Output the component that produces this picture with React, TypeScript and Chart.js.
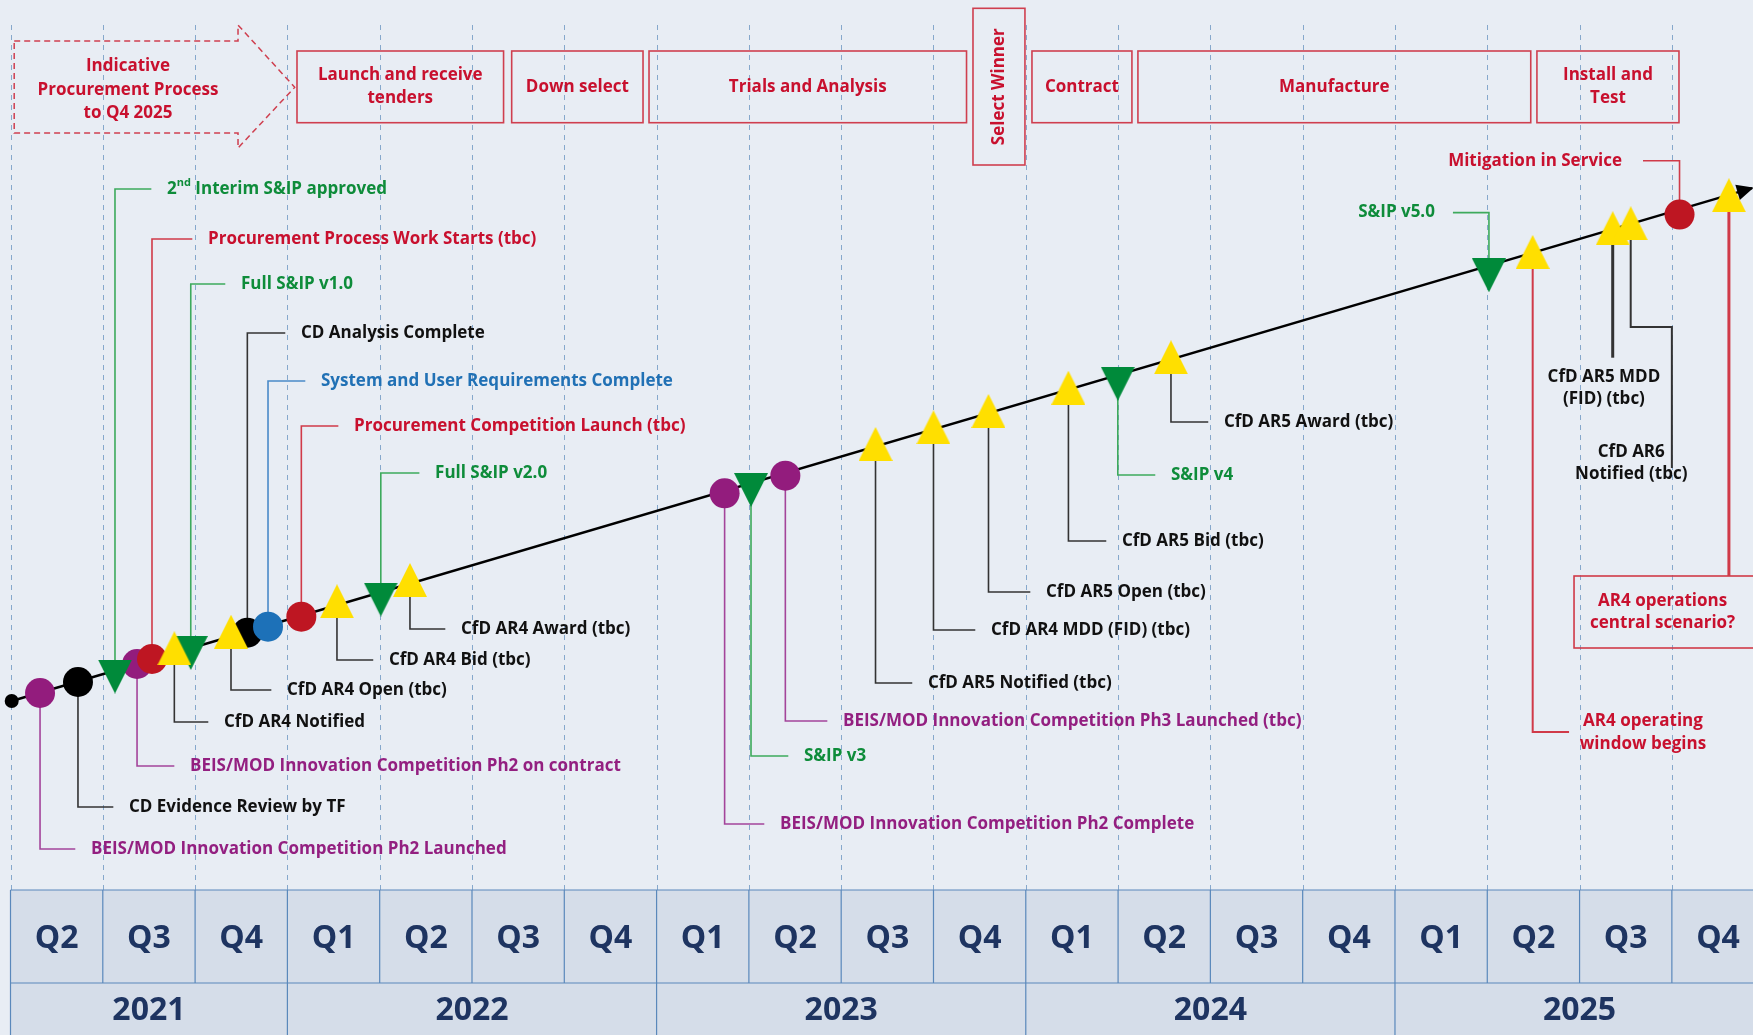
import React, { useEffect, useRef } from 'react';
import { Chart, registerables } from 'chart.js';

Chart.register(...registerables);

const W = 1753;
const H = 1035;
const FONT = '"Open Sans", "DejaVu Sans", sans-serif';

// ---------- time axis (quarters from Q2 2021) ----------
const quarterLabels = ['Q2', 'Q3', 'Q4', 'Q1', 'Q2', 'Q3', 'Q4', 'Q1', 'Q2', 'Q3', 'Q4', 'Q1', 'Q2', 'Q3', 'Q4', 'Q1', 'Q2', 'Q3', 'Q4'];
const yearLabels = ['2021', '2022', '2023', '2024', '2025'];
const yearQuarterCount = [3, 4, 4, 4, 4];

// ---------- procurement phases ----------
const phaseLabels = ['Launch and receive\ntenders', 'Down select', 'Trials and Analysis', 'Contract', 'Manufacture', 'Install and\nTest'];
const phaseFrom = [3.104, 5.43, 6.918, 11.067, 12.215, 16.538];
const phaseTo = [5.342, 6.853, 10.358, 12.15, 16.471, 18.077];
const indicativeLabel = ['Indicative', 'Procurement Process', 'to Q4 2025'];
const selectWinnerLabel = 'Select Winner';
const selectWinnerFrom = 10.428;
const selectWinnerTo = 10.991;

// ---------- timeline ----------
const timelineQuarter = [0.013, 18.868];
const timelineLevel = [33.4, 84.69];

// ---------- milestones ----------
const milestoneNames = [
  'BEIS/MOD Innovation Competition Ph2 Launched',
  'CD Evidence Review by TF',
  '2nd Interim S&IP approved',
  'BEIS/MOD Innovation Competition Ph2 on contract',
  'Procurement Process Work Starts (tbc)',
  'CfD AR4 Notified',
  'Full S&IP v1.0',
  'CfD AR4 Open (tbc)',
  'CD Analysis Complete',
  'System and User Requirements Complete',
  'Procurement Competition Launch (tbc)',
  'CfD AR4 Bid (tbc)',
  'Full S&IP v2.0',
  'CfD AR4 Award (tbc)',
  'BEIS/MOD Innovation Competition Ph2 Complete',
  'S&IP v3',
  'BEIS/MOD Innovation Competition Ph3 Launched (tbc)',
  'CfD AR5 Notified (tbc)',
  'CfD AR4 MDD (FID) (tbc)',
  'CfD AR5 Open (tbc)',
  'CfD AR5 Bid (tbc)',
  'S&IP v4',
  'CfD AR5 Award (tbc)',
  'S&IP v5.0',
  'AR4 operating\nwindow begins',
  'CfD AR5 MDD\n(FID) (tbc)',
  'CfD AR6\nNotified (tbc)',
  'Mitigation in Service',
  'AR4 operations\ncentral scenario?',
];
const milestoneQuarter = [0.32, 0.731, 1.132, 1.371, 1.533, 1.775, 1.953, 2.389, 2.566, 2.79, 3.151, 3.537, 4.012, 4.328, 7.737, 8.023, 8.395, 9.372, 10.0, 10.596, 11.462, 11.997, 12.573, 16.018, 16.492, 17.359, 17.554, 18.083, 18.618];
const milestoneLevel = [34.2, 35.3, 35.85, 37.1, 37.6, 38.67, 38.2, 40.33, 40.23, 40.83, 41.83, 43.37, 43.55, 45.5, 54.17, 54.5, 55.93, 59.1, 60.77, 62.4, 64.73, 65.13, 67.77, 75.97, 78.31, 80.68, 81.17, 82.04, 83.98];
const milestoneType = ['beis', 'cd', 'sip', 'beis', 'proc', 'cfd', 'sip', 'cfd', 'cd', 'req', 'proc', 'cfd', 'sip', 'cfd', 'beis', 'sip', 'beis', 'cfd', 'cfd', 'cfd', 'cfd', 'sip', 'cfd', 'sip', 'cfd', 'cfd', 'cfd', 'proc', 'cfd'];

// ---------- styles ----------
const BG = '#e8edf4';
const CELL = '#d5dde9';
const TABLE_LINE = '#5a88bb';
const TABLE_TEXT = '#1e3461';
const GRID = '#86a8cc';
const RED = '#c8102e';
const BOX_LINE = '#cf3f4f';

const markerColor: Record<string, string> = {
  beis: '#931c7d', cd: '#000000', proc: '#be1622', req: '#1d71b8', sip: '#008a3a', cfd: '#ffdf00',
};
const textColor: Record<string, string> = {
  beis: '#931f80', cd: '#111111', proc: RED, req: '#2171b5', sip: '#0e8c3a', cfd: '#111111',
};
const leaderColor: Record<string, string> = {
  beis: '#a3449a', cd: '#333333', proc: '#d03a48', req: '#4a8ac8', sip: '#3daa5c', cfd: '#333333',
};

// ---------- callout layout (text anchor in axis units) ----------
type Callout = {
  tq: number; tl: number; align?: 'left' | 'right' | 'center';
  via?: [number, number][]; color?: string; lw?: number; box?: [number, number, number, number];
};
const callouts: Callout[] = [
  { tq: 0.872, tl: 18.6 },
  { tq: 1.284, tl: 22.8 },
  { tq: 1.696, tl: 84.6 },
  { tq: 1.945, tl: 26.9 },
  { tq: 2.14, tl: 79.6 },
  { tq: 2.313, tl: 31.3 },
  { tq: 2.497, tl: 75.1 },
  { tq: 2.996, tl: 34.5 },
  { tq: 3.147, tl: 70.2 },
  { tq: 3.364, tl: 65.4 },
  { tq: 3.722, tl: 60.9 },
  { tq: 4.1, tl: 37.5 },
  { tq: 4.6, tl: 56.2 },
  { tq: 4.881, tl: 40.6 },
  { tq: 8.337, tl: 21.1 },
  { tq: 8.597, tl: 27.9 },
  { tq: 9.02, tl: 31.4 },
  { tq: 9.94, tl: 35.2 },
  { tq: 10.623, tl: 40.5 },
  { tq: 11.219, tl: 44.3 },
  { tq: 12.042, tl: 49.4 },
  { tq: 12.573, tl: 56.0 },
  { tq: 13.147, tl: 61.3 },
  { tq: 15.433, tl: 82.24, align: 'right' },
  { tq: 17.687, tl: 30.23, align: 'center', via: [[16.492, 30.3], [16.886, 30.3]], color: RED, lw: 2 },
  { tq: 17.264, tl: 64.7, align: 'center', via: [[17.359, 67.73]], lw: 3 },
  { tq: 17.56, tl: 57.2, align: 'center', via: [[17.554, 70.8], [18.0, 70.8], [18.0, 56.7]], lw: 2 },
  { tq: 17.46, tl: 87.4, align: 'right', via: [[18.083, 87.43], [17.687, 87.43]] },
  { tq: 17.9, tl: 42.3, align: 'center', via: [[18.618, 45.9]], color: RED, lw: 3, box: [16.94, 19.2, 38.7, 45.9] },
];

function makeTriangle(color: string, down: boolean) {
  const w = 34, h = 34;
  const c = document.createElement('canvas');
  c.width = w; c.height = h;
  const g = c.getContext('2d')!;
  g.fillStyle = color;
  g.beginPath();
  if (down) { g.moveTo(0, 0); g.lineTo(w, 0); g.lineTo(w / 2, h); }
  else { g.moveTo(w / 2, 0); g.lineTo(w, h); g.lineTo(0, h); }
  g.closePath();
  g.fill();
  return c;
}

function drawLines(ctx: CanvasRenderingContext2D, text: string, x: number, y: number, align: CanvasTextAlign, color: string, size = 17, gap = 22.5) {
  const lines = text.split('\n');
  ctx.save();
  ctx.font = `bold ${size}px ${FONT}`;
  ctx.fillStyle = color;
  ctx.textAlign = align;
  ctx.textBaseline = 'middle';
  const y0 = y - ((lines.length - 1) * gap) / 2;
  lines.forEach((ln, i) => {
    const m = /^(\d)(st|nd|rd|th)( .*)$/.exec(ln);
    if (m && align === 'left') {
      let cx = x;
      ctx.fillText(m[1], cx, y0 + i * gap);
      cx += ctx.measureText(m[1]).width;
      ctx.font = `bold ${Math.round(size * 0.62)}px ${FONT}`;
      ctx.fillText(m[2], cx, y0 + i * gap - 6);
      cx += ctx.measureText(m[2]).width;
      ctx.font = `bold ${size}px ${FONT}`;
      ctx.fillText(m[3], cx, y0 + i * gap);
    } else {
      ctx.fillText(ln, x, y0 + i * gap);
    }
  });
  ctx.restore();
}

const decorPlugin = {
  id: 'timelineDecor',
  beforeDraw(chart: any) {
    const ctx: CanvasRenderingContext2D = chart.ctx;
    const X = (q: number) => chart.scales.x.getPixelForValue(q);
    const Y = (l: number) => chart.scales.y.getPixelForValue(l);
    ctx.save();
    ctx.fillStyle = BG;
    ctx.fillRect(0, 0, chart.width, chart.height);

    // dashed quarter guides
    ctx.strokeStyle = GRID;
    ctx.lineWidth = 1;
    ctx.setLineDash([5, 5]);
    for (let k = 0; k < quarterLabels.length; k++) {
      const x = Math.round(X(k)) + 0.5;
      ctx.beginPath();
      ctx.moveTo(x, Y(101));
      ctx.lineTo(x, Y(14.5));
      ctx.stroke();
    }
    ctx.setLineDash([]);

    // quarter / year table
    const top = Y(14.5), mid = Y(5.2), bot = Y(0);
    ctx.fillStyle = CELL;
    ctx.fillRect(X(0), top, chart.width - X(0), bot - top);
    ctx.strokeStyle = TABLE_LINE;
    ctx.lineWidth = 1.2;
    ctx.beginPath();
    ctx.moveTo(X(0), top); ctx.lineTo(chart.width, top);
    ctx.moveTo(X(0), mid); ctx.lineTo(chart.width, mid);
    for (let k = 0; k < quarterLabels.length; k++) {
      ctx.moveTo(X(k), top); ctx.lineTo(X(k), mid);
    }
    let acc = 0;
    yearQuarterCount.forEach((n) => {
      ctx.moveTo(X(acc), mid); ctx.lineTo(X(acc), bot);
      acc += n;
    });
    ctx.stroke();
    ctx.fillStyle = TABLE_TEXT;
    ctx.font = `bold 32px ${FONT}`;
    ctx.textAlign = 'center';
    ctx.textBaseline = 'middle';
    quarterLabels.forEach((q, k) => ctx.fillText(q, X(k + 0.5), (top + mid) / 2 + 2));
    acc = 0;
    yearLabels.forEach((y, i) => {
      ctx.fillText(y, X(acc + yearQuarterCount[i] / 2), (mid + bot) / 2 + 2);
      acc += yearQuarterCount[i];
    });

    // indicative dashed arrow
    ctx.strokeStyle = BOX_LINE;
    ctx.lineWidth = 1.5;
    ctx.setLineDash([6, 4]);
    ctx.beginPath();
    const arrowPts: [number, number][] = [[0.04, 99.4], [2.465, 99.4], [2.465, 101], [3.079, 94.77], [2.465, 88.7], [2.465, 90.2], [0.04, 90.2]];
    arrowPts.forEach(([q, l], i) => (i ? ctx.lineTo(X(q), Y(l)) : ctx.moveTo(X(q), Y(l))));
    ctx.closePath();
    ctx.stroke();
    ctx.setLineDash([]);
    drawLines(ctx, indicativeLabel.join('\n'), X(1.273), Y(94.5), 'center', RED, 17, 23.6);

    // phase boxes
    ctx.strokeStyle = BOX_LINE;
    ctx.lineWidth = 1.6;
    phaseLabels.forEach((p, i) => {
      ctx.strokeRect(X(phaseFrom[i]), Y(98.4), X(phaseTo[i]) - X(phaseFrom[i]), Y(91.23) - Y(98.4));
      drawLines(ctx, p, (X(phaseFrom[i]) + X(phaseTo[i])) / 2, Y(94.83), 'center', RED, 17, 22.7);
    });
    ctx.strokeRect(X(selectWinnerFrom), Y(102.67), X(selectWinnerTo) - X(selectWinnerFrom), Y(87.0) - Y(102.67));
    ctx.save();
    ctx.translate((X(selectWinnerFrom) + X(selectWinnerTo)) / 2, Y(94.83));
    ctx.rotate(-Math.PI / 2);
    drawLines(ctx, selectWinnerLabel, 0, 0, 'center', RED, 17);
    ctx.restore();
    ctx.restore();
  },
  beforeDatasetsDraw(chart: any) {
    const ctx: CanvasRenderingContext2D = chart.ctx;
    const X = (q: number) => chart.scales.x.getPixelForValue(q);
    const Y = (l: number) => chart.scales.y.getPixelForValue(l);
    ctx.save();
    callouts.forEach((c, i) => {
      const t = milestoneType[i];
      const mq = milestoneQuarter[i];
      const ml = milestoneLevel[i];
      const align = c.align || 'left';
      const path: [number, number][] = c.via
        ? c.via
        : align === 'right'
          ? [[mq, c.tl], [c.tq + 0.195, c.tl]]
          : [[mq, c.tl], [c.tq - 0.17, c.tl]];
      ctx.strokeStyle = c.color ? '#d03a48' : leaderColor[t];
      ctx.lineWidth = c.lw || 1.6;
      ctx.beginPath();
      ctx.moveTo(X(mq), Y(ml));
      path.forEach(([q, l]) => ctx.lineTo(X(q), Y(l)));
      ctx.stroke();
      if (c.box) {
        const [q0, q1, l0, l1] = c.box;
        ctx.lineWidth = 1.6;
        ctx.strokeRect(X(q0), Y(l1), X(q1) - X(q0), Y(l0) - Y(l1));
      }
    });
    ctx.restore();
  },
  afterDatasetsDraw(chart: any) {
    const ctx: CanvasRenderingContext2D = chart.ctx;
    const X = (q: number) => chart.scales.x.getPixelForValue(q);
    const Y = (l: number) => chart.scales.y.getPixelForValue(l);
    // arrow head at the end of the timeline
    const meta = chart.getDatasetMeta(0);
    const a = meta.data[0], b = meta.data[meta.data.length - 1];
    const ang = Math.atan2(b.y - a.y, b.x - a.x);
    ctx.save();
    ctx.translate(b.x, b.y);
    ctx.rotate(ang);
    ctx.fillStyle = '#000';
    ctx.beginPath();
    ctx.moveTo(2, 0);
    ctx.lineTo(-15, -8);
    ctx.lineTo(-15, 8);
    ctx.closePath();
    ctx.fill();
    ctx.restore();

    callouts.forEach((c, i) => {
      const t = milestoneType[i];
      drawLines(ctx, milestoneNames[i], X(c.tq), Y(c.tl), (c.align || 'left') as CanvasTextAlign, c.color || textColor[t]);
    });
  },
};

export default function App() {
  const ref = useRef<HTMLCanvasElement>(null);
  useEffect(() => {
    document.body.style.margin = '0';
    const canvas = ref.current!;
    const greenTri = makeTriangle(markerColor.sip, true);
    const yellowTri = makeTriangle(markerColor.cfd, false);
    const idx = milestoneNames.map((_, i) => i);
    const circleIdx = idx.filter((i) => ['beis', 'cd', 'proc', 'req'].includes(milestoneType[i]));
    const greenIdx = idx.filter((i) => milestoneType[i] === 'sip');
    const yellowIdx = idx.filter((i) => milestoneType[i] === 'cfd');
    const pts = (ids: number[]) => ids.map((i) => ({ x: milestoneQuarter[i], y: milestoneLevel[i] }));

    const chart = new Chart(canvas, {
      type: 'scatter',
      data: {
        datasets: [
          {
            type: 'line',
            data: timelineQuarter.map((q, i) => ({ x: q, y: timelineLevel[i] })),
            borderColor: '#000',
            borderWidth: 2.5,
            pointRadius: [7, 0],
            pointBackgroundColor: '#000',
            pointBorderWidth: 0,
            clip: false,
            order: 10,
          } as any,
          {
            data: pts(circleIdx),
            pointStyle: 'circle',
            pointRadius: 15,
            pointBackgroundColor: circleIdx.map((i) => markerColor[milestoneType[i]]),
            pointBorderWidth: 0,
            clip: false,
            order: 5,
          } as any,
          {
            data: pts(greenIdx),
            pointStyle: greenIdx.map(() => greenTri) as any,
            pointRadius: 17,
            clip: false,
            order: 3,
          } as any,
          {
            data: pts(yellowIdx),
            pointStyle: yellowIdx.map(() => yellowTri) as any,
            pointRadius: 17,
            clip: false,
            order: 1,
          } as any,
        ],
      },
      options: {
        responsive: false,
        animation: false,
        events: [],
        layout: { padding: 0, autoPadding: false },
        plugins: { legend: { display: false }, tooltip: { enabled: false } },
        scales: {
          x: { type: 'linear', min: -0.1138, max: 18.879, display: false },
          y: { type: 'linear', min: 0, max: 103.5, display: false },
        },
      } as any,
      plugins: [decorPlugin],
    });
    return () => chart.destroy();
  }, []);
  return (
    <div style={{ position: 'relative', width: W, height: H, overflow: 'hidden', background: BG }}>
      <canvas ref={ref} width={W} height={H} style={{ display: 'block', width: W, height: H }} />
    </div>
  );
}
